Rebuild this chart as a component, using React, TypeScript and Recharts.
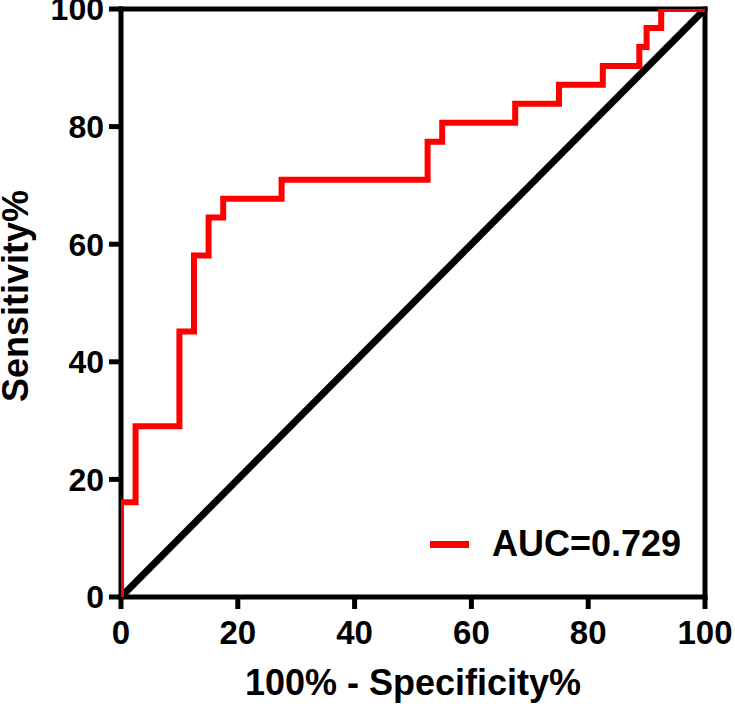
import React from 'react';
import { LineChart, Line, XAxis, YAxis, ReferenceLine, Legend, Label } from 'recharts';

// ROC curve corner points (100% - Specificity%, Sensitivity%)
const fpr = [0, 0, 2.5, 2.5, 10, 10, 12.5, 12.5, 15, 15, 17.5, 17.5, 27.5, 27.5, 52.5, 52.5, 55, 55, 67.5, 67.5, 75, 75, 82.5, 82.5, 88.75, 88.75, 90, 90, 92.5, 92.5, 100];
const sensitivity = [0, 16.13, 16.13, 29.03, 29.03, 45.16, 45.16, 58.06, 58.06, 64.52, 64.52, 67.74, 67.74, 70.97, 70.97, 77.42, 77.42, 80.65, 80.65, 83.87, 83.87, 87.1, 87.1, 90.32, 90.32, 93.55, 93.55, 96.77, 96.77, 100, 100];

// Reference (chance) line
const refX = [0, 100];
const refY = [0, 100];

const xTicks = [0, 20, 40, 60, 80, 100];
const yTicks = [0, 20, 40, 60, 80, 100];

const xTitle = '100% - Specificity%';
const yTitle = 'Sensitivity%';
const aucLabel = 'AUC=0.729';

const rocData = fpr.map((x, i) => ({ x, y: sensitivity[i] }));
const diagData = refX.map((x, i) => ({ x, y: refY[i] }));

const FONT = '"Liberation Sans", Arial, Helvetica, sans-serif';

const XTitle = (props: any) => {
  const vb = props.viewBox || { x: 121, y: 597, width: 584, height: 109 };
  return (
    <text x={vb.x + vb.width / 2} y={vb.y + 98} textAnchor="middle" fontFamily={FONT} fontWeight={700} fontSize={36} fill="#000">
      {xTitle}
    </text>
  );
};

const YTitle = (props: any) => {
  const vb = props.viewBox || { x: 0, y: 9, width: 121, height: 588 };
  const cx = vb.x + 28;
  const cy = vb.y + vb.height / 2 - 7;
  return (
    <text transform={`translate(${cx}, ${cy}) rotate(-90)`} x={0} y={0} textAnchor="middle" fontFamily={FONT} fontWeight={700} fontSize={36} fill="#000">
      {yTitle}
    </text>
  );
};

const XTick = (props: any) => {
  const { x, y, payload } = props;
  return (
    <text x={x} y={y} dy="0.71em" textAnchor="middle" fontFamily={FONT} fontWeight={700} fontSize={33} fill="#000">
      {payload.value}
    </text>
  );
};

const YTick = (props: any) => {
  const { x, y, payload } = props;
  return (
    <text x={x} y={y} dy="0.355em" textAnchor="end" fontFamily={FONT} fontWeight={700} fontSize={32} fill="#000">
      {payload.value}
    </text>
  );
};

const LegendContent = () => (
  <div style={{ display: 'flex', alignItems: 'center', height: 36, fontFamily: FONT, fontWeight: 700, fontSize: 36, lineHeight: '36px', color: '#000', whiteSpace: 'nowrap' }}>
    <span style={{ display: 'inline-block', width: 39, height: 7, background: '#ff0000', marginRight: 23 }} />
    <span>{aucLabel}</span>
  </div>
);

export default function App() {
  const axisStroke = { stroke: '#000', strokeWidth: 5, strokeLinecap: 'square' as const };
  return (
    <div style={{ position: 'absolute', left: 0, top: 0 }}>
      <LineChart width={735} height={706} margin={{ top: 9, right: 30, bottom: 0, left: 0 }}>
        <XAxis
          type="number"
          dataKey="x"
          domain={[0, 100]}
          ticks={xTicks}
          interval={0}
          allowDataOverflow
          height={109}
          tickSize={12}
          tickMargin={12}
          fontSize={33}
          axisLine={axisStroke}
          tickLine={{ stroke: '#000', strokeWidth: 5 }}
          tick={<XTick />}
        >
          <Label content={<XTitle />} />
        </XAxis>
        <YAxis
          type="number"
          dataKey="y"
          domain={[0, 100]}
          ticks={yTicks}
          interval={0}
          allowDataOverflow
          width={121}
          tickSize={12}
          tickMargin={5}
          fontSize={32}
          axisLine={axisStroke}
          tickLine={{ stroke: '#000', strokeWidth: 5 }}
          tick={<YTick />}
        >
          <Label content={<YTitle />} />
        </YAxis>
        <ReferenceLine y={100} stroke="#000" strokeWidth={5} strokeLinecap="square" />
        <ReferenceLine x={100} stroke="#000" strokeWidth={5} strokeLinecap="square" />
        <Line
          data={diagData}
          dataKey="y"
          type="linear"
          stroke="#000"
          strokeWidth={7}
          dot={false}
          activeDot={false}
          legendType="none"
          isAnimationActive={false}
          zIndex={550}
        />
        <Line
          data={rocData}
          dataKey="y"
          name={aucLabel}
          type="linear"
          stroke="#ff0000"
          strokeWidth={6}
          strokeLinejoin="miter"
          dot={false}
          activeDot={false}
          isAnimationActive={false}
          zIndex={600}
        />
        <Legend
          layout="horizontal"
          verticalAlign="middle"
          align="center"
          content={<LegendContent />}
          wrapperStyle={{ position: 'absolute', left: 430, top: 526, width: 'auto', height: 36 }}
        />
      </LineChart>
    </div>
  );
}
